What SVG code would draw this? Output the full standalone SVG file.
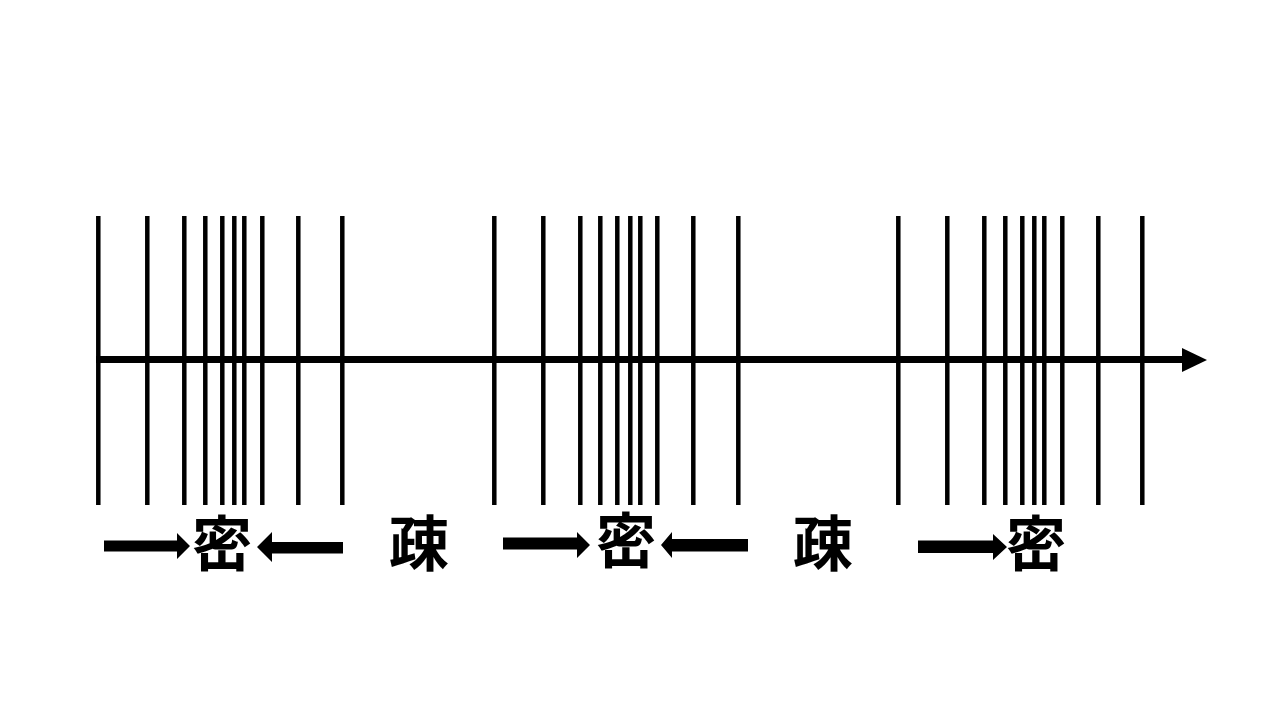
<svg xmlns="http://www.w3.org/2000/svg" width="1280" height="720" viewBox="0 0 1280 720">
<defs>
<style>
.tick{stroke:#000;stroke-width:4.5}
.axis{stroke:#000;stroke-width:7}
.lbl{font-family:"Noto Sans CJK JP","Noto Sans CJK SC",sans-serif;font-weight:bold;font-size:60px;fill:#000;text-anchor:middle}
.arr{fill:#000}
</style>
</defs>
<rect width="1280" height="720" fill="#fff"/>
<g id="ticks">
<g id="group1">
<line class="tick" x1="98.3" y1="216" x2="98.3" y2="505"/>
<line class="tick" x1="147.3" y1="216" x2="147.3" y2="505"/>
<line class="tick" x1="184.3" y1="216" x2="184.3" y2="505"/>
<line class="tick" x1="205.3" y1="216" x2="205.3" y2="505"/>
<line class="tick" x1="222.3" y1="216" x2="222.3" y2="505"/>
<line class="tick" x1="234.3" y1="216" x2="234.3" y2="505"/>
<line class="tick" x1="244.3" y1="216" x2="244.3" y2="505"/>
<line class="tick" x1="262.3" y1="216" x2="262.3" y2="505"/>
<line class="tick" x1="298.3" y1="216" x2="298.3" y2="505"/>
<line class="tick" x1="342.3" y1="216" x2="342.3" y2="505"/>
</g>
<g id="group2">
<line class="tick" x1="494.3" y1="216" x2="494.3" y2="505"/>
<line class="tick" x1="543.3" y1="216" x2="543.3" y2="505"/>
<line class="tick" x1="580.3" y1="216" x2="580.3" y2="505"/>
<line class="tick" x1="600.3" y1="216" x2="600.3" y2="505"/>
<line class="tick" x1="617.3" y1="216" x2="617.3" y2="505"/>
<line class="tick" x1="630.3" y1="216" x2="630.3" y2="505"/>
<line class="tick" x1="640.3" y1="216" x2="640.3" y2="505"/>
<line class="tick" x1="657.3" y1="216" x2="657.3" y2="505"/>
<line class="tick" x1="693.3" y1="216" x2="693.3" y2="505"/>
<line class="tick" x1="738.3" y1="216" x2="738.3" y2="505"/>
</g>
<g id="group3">
<line class="tick" x1="898.3" y1="216" x2="898.3" y2="505"/>
<line class="tick" x1="947.3" y1="216" x2="947.3" y2="505"/>
<line class="tick" x1="984.3" y1="216" x2="984.3" y2="505"/>
<line class="tick" x1="1005.3" y1="216" x2="1005.3" y2="505"/>
<line class="tick" x1="1022.3" y1="216" x2="1022.3" y2="505"/>
<line class="tick" x1="1034.3" y1="216" x2="1034.3" y2="505"/>
<line class="tick" x1="1044.3" y1="216" x2="1044.3" y2="505"/>
<line class="tick" x1="1062.3" y1="216" x2="1062.3" y2="505"/>
<line class="tick" x1="1098.3" y1="216" x2="1098.3" y2="505"/>
<line class="tick" x1="1142.3" y1="216" x2="1142.3" y2="505"/>
</g>
</g>
<g id="axis">
<line class="axis" x1="96" y1="359.5" x2="1186" y2="359.5"/>
<polygon class="arr" points="1182,348 1207,360 1182,372"/>
</g>
<g id="connectors">
<polygon class="arr" points="104,540.5 177,540.5 177,533 190,546 177,559 177,551.5 104,551.5"/>
<polygon class="arr" points="343,542 272,542 272,532 257,547 272,562 272,553.5 343,553.5"/>
<polygon class="arr" points="503,537.5 577,537.5 577,532 590,545 577,558 577,549.5 503,549.5"/>
<polygon class="arr" points="748,539 672,539 672,532 661,545 672,558 672,551.5 748,551.5"/>
<polygon class="arr" points="918,540.5 993,540.5 993,534 1007,547 993,560 993,553 918,553"/>
</g>
<g id="label1"><text class="lbl" x="222" y="566">密</text></g>
<g id="label2"><text class="lbl" x="419" y="566">疎</text></g>
<g id="label3"><text class="lbl" x="626" y="563">密</text></g>
<g id="label4"><text class="lbl" x="823" y="566">疎</text></g>
<g id="label5"><text class="lbl" x="1036" y="566">密</text></g>
</svg>
